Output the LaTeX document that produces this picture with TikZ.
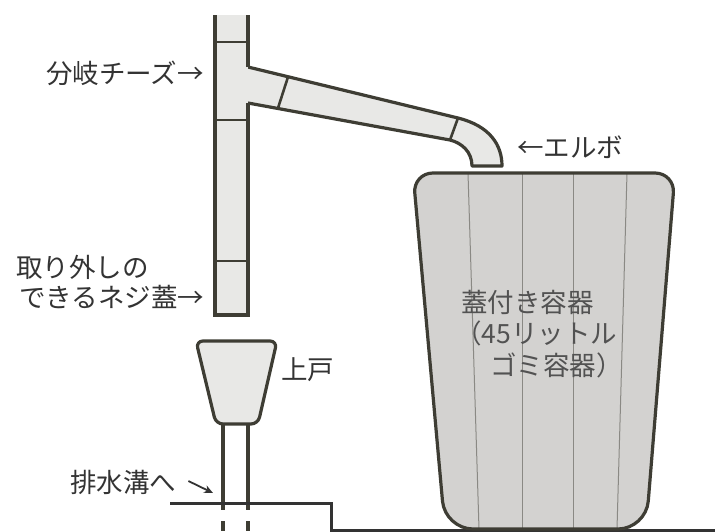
\documentclass[tikz,border=0pt]{standalone}
\usepackage{fontspec}
\usetikzlibrary{arrows.meta}
\newfontfamily\jp{Noto Sans CJK JP}
\definecolor{edge}{HTML}{3E3D34}
\definecolor{pipefill}{HTML}{E8E8E6}
\definecolor{binfill}{HTML}{D3D2D0}
\definecolor{ink}{HTML}{333333}
\definecolor{rib}{HTML}{8A8984}
\tikzset{
  pipe/.style={fill=pipefill, draw=edge, line width=3.2pt, line join=round},
  pipeline/.style={draw=edge, line width=3.2pt},
  seam/.style={draw=edge, line width=2.6pt},
  label/.style={font=\jp\fontsize{26.5}{30}\selectfont, text=ink, inner sep=0pt, anchor=west},
  binlabel/.style={font=\jp\fontsize{26.5}{30}\selectfont, text=ink!85, inner sep=0pt, anchor=west},
  ground/.style={draw=ink, line width=3pt},
}
% outline of the container: wide rounded top, narrower rounded bottom
\def\binpath{(544,173) [rounded corners=20pt] -- (675,173) [rounded corners=28pt] -- (646,529)
  -- (445,529) [rounded corners=20pt] -- (413,173) -- cycle}
\begin{document}
\begin{tikzpicture}[x=1pt, y=-1pt]
\useasboundingbox (0,0) rectangle (715,531);

% branch pipe with elbow
\path[fill=pipefill] (246,67) -- (458,118) .. controls (490,126) and (502,145) .. (502,166)
  -- (472,166) .. controls (472,152) and (462,143) .. (450,140) -- (246,103) -- cycle;
\draw[pipeline, line join=round] (248,67) -- (458,118) .. controls (490,126) and (502,145) .. (502,166)
  -- (472,166) .. controls (472,152) and (462,143) .. (450,140) -- (248,103);
\draw[seam] (288,77) -- (278,108);
\draw[seam] (458,118) -- (450,140);

% vertical pipe
\fill[pipefill] (215,15) rectangle (248,315);
\draw[pipeline] (215,15) -- (215,315) -- (248,315) -- (248,103);
\draw[pipeline] (248,67) -- (248,15);
\draw[seam] (215,42) -- (248,42);
\draw[seam] (215,120) -- (248,120);
\draw[seam] (215,261) -- (248,261);

% funnel and its drain pipe
\draw[pipeline] (223,422) -- (223,510);
\draw[pipeline] (248,422) -- (248,510);
\draw[pipeline] (223,521) -- (223,531);
\draw[pipeline] (248,521) -- (248,531);
\draw[pipe, rounded corners=7pt] (196,341) -- (277,341) -- (258,424) -- (216,424) -- cycle;

% ground
\draw[ground] (170,503) -- (331,503) -- (331,530) -- (715,530);

% container
\path[fill=binfill] \binpath;
\begin{scope}
\clip \binpath;
\draw[rib, line width=1pt] (468,173) -- (479,529);
\draw[rib, line width=1pt] (522,173) -- (522,529);
\draw[rib, line width=1pt] (573,173) -- (573,529);
\draw[rib, line width=1pt] (627,173) -- (617,529);
\end{scope}
\draw[draw=edge, line width=3.2pt] \binpath;

% labels
\node[label] (tee) at (46,73) {分岐チーズ→};
\node[label] (elbow) at (517,147) {←エルボ};
\node[label] (cap1) at (16,267) {取り外しの};
\node[label] (cap2) at (19,297) {できるネジ蓋→};
\node[label] (funnel) at (281,370) {上戸};
\node[label] (drain) at (70,482) {排水溝へ};
\coordinate (drainarrow) at (213,493);
\draw[ink, line width=1.8pt, -{Stealth[length=9pt,width=8pt]}] (drain.east) ++(12,-1) -- (drainarrow);
\node[binlabel] (bin1) at (461,302) {蓋付き容器};
\node[binlabel] (bin2) at (455,333) {（45リットル};
\node[binlabel] (bin3) at (490,365) {ゴミ容器）};
\end{tikzpicture}
\end{document}
